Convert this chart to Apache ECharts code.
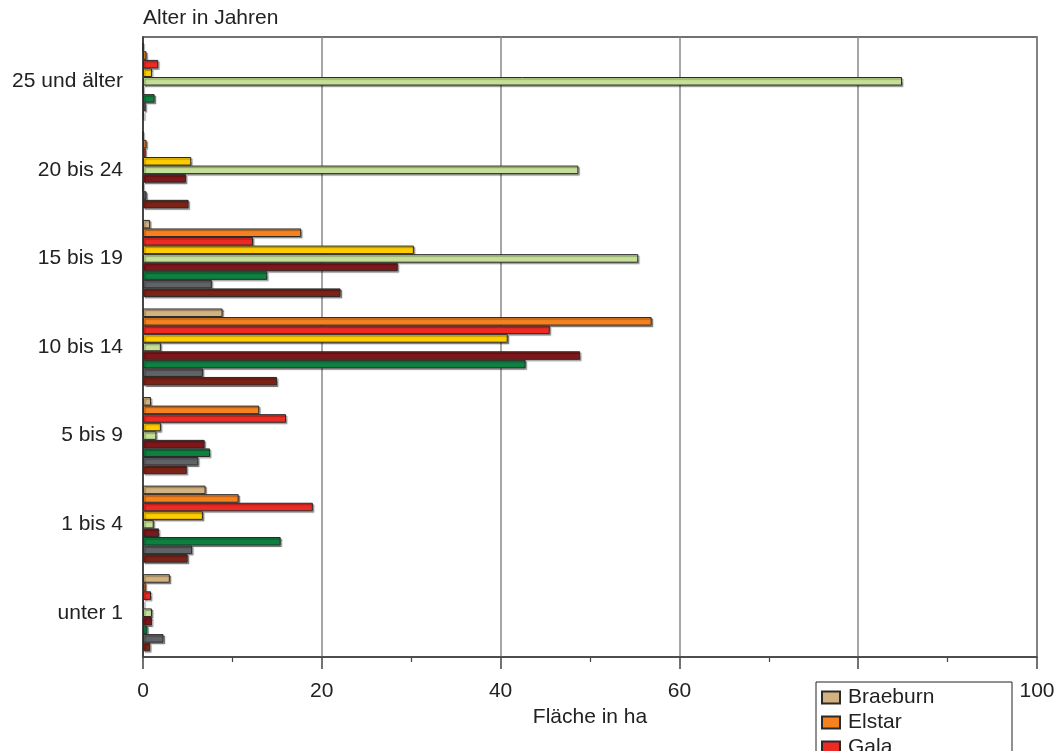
<!DOCTYPE html>
<html>
<head>
<meta charset="utf-8">
<script src="https://cdn.jsdelivr.net/npm/echarts@6/dist/echarts.min.js"></script>
<style>html,body{margin:0;padding:0;background:#fff;}#c{width:1060px;height:751px;}</style>
</head>
<body>
<div id="c"></div>
<script>
// Categories bottom to top
const categories = ['unter 1', '1 bis 4', '5 bis 9', '10 bis 14', '15 bis 19', '20 bis 24', '25 und älter'];
const seriesNames = ['Braeburn', 'Elstar', 'Gala', 'Golden Delicious', 'Idared', 'Jonagold', 'Pinova', 'Topaz', 'Sonstige'];
const braeburn  = [3.0, 7.0, 0.9, 8.9, 0.8, 0.0, 0.0];
const elstar    = [0.3, 10.7, 13.0, 56.9, 17.7, 0.4, 0.4];
const gala      = [0.9, 19.0, 16.0, 45.5, 12.3, 0.3, 1.7];
const golden    = [0.1, 6.7, 2.0, 40.8, 30.3, 5.4, 1.0];
const idared    = [1.0, 1.2, 1.5, 2.0, 55.4, 48.7, 84.9];
const jonagold  = [1.0, 1.8, 6.9, 48.9, 28.5, 4.8, 0.0];
const pinova    = [0.5, 15.4, 7.5, 42.8, 13.9, 0.0, 1.3];
const topaz     = [2.3, 5.5, 6.2, 6.7, 7.7, 0.4, 0.3];
const sonstige  = [0.8, 5.0, 4.9, 15.0, 22.1, 5.1, 0.1];
const xTicks = [0, 20, 40, 60, 80, 100];

const values = [braeburn, elstar, gala, golden, idared, jonagold, pinova, topaz, sonstige];
const colors = ['#d3b27f', '#f5821f', '#ee2a24', '#ffcc00', '#c5df96', '#7d171a', '#0e8040', '#626367', '#7b2316'];
const FONT = 'Liberation Sans';
const FS = 21;

const chart = echarts.init(document.getElementById('c'));
chart.setOption({
  animation: false,
  textStyle: { fontFamily: FONT },
  title: {
    text: 'Alter in Jahren', left: 138, top: 3,
    textStyle: { fontFamily: FONT, fontSize: FS, fontWeight: 'normal', color: '#222' }
  },
  legend: {
    data: seriesNames,
    orient: 'vertical', left: 816, top: 682, height: 320,
    padding: [5, 4, 6, 5],
    backgroundColor: '#fff',
    borderColor: '#222', borderWidth: 1,
    itemWidth: 18, itemHeight: 12, itemGap: 4, icon: 'rect',
    textStyle: { fontFamily: FONT, fontSize: FS, color: '#222', width: 160, lineHeight: 20, padding: [0,0,0,3] }
  },
  grid: { left: 143, right: 23, top: 37, bottom: 94, show: true, borderColor: '#444', borderWidth: 1.5, containLabel: false },
  xAxis: {
    type: 'value', min: 0, max: 100, interval: 20,
    name: 'Fläche in ha', nameLocation: 'middle', nameGap: 40,
    nameTextStyle: { fontFamily: FONT, fontSize: FS, color: '#222' },
    axisLine: { show: true, lineStyle: { color: '#444', width: 1.5 } },
    axisTick: { show: true, length: 12, lineStyle: { color: '#444', width: 1.5 } },
    minorTick: { show: true, splitNumber: 2, length: 5, lineStyle: { color: '#444', width: 1.2 } },
    axisLabel: { fontFamily: FONT, fontSize: FS, color: '#222', margin: 24,
      formatter: v => xTicks.includes(v) ? String(v) : '' },
    splitLine: { show: true, lineStyle: { color: '#888', width: 1.5 } }
  },
  yAxis: {
    type: 'category', data: categories,
    axisLine: { show: true, lineStyle: { color: '#333', width: 1.5 } },
    axisTick: { show: false },
    axisLabel: { fontFamily: FONT, fontSize: FS, color: '#222', margin: 20 },
    splitLine: { show: false }
  },
  series: seriesNames.map((n, i) => ({
    name: n, type: 'bar', data: values[i],
    barGap: '0%', barCategoryGap: '13%',
    itemStyle: { color: colors[i], borderColor: '#2a2a2a', borderWidth: 1,
      shadowColor: 'rgba(0,0,0,0.35)', shadowOffsetX: 1.5, shadowOffsetY: 1.5, shadowBlur: 1 }
  }))
});
</script>
</body>
</html>
